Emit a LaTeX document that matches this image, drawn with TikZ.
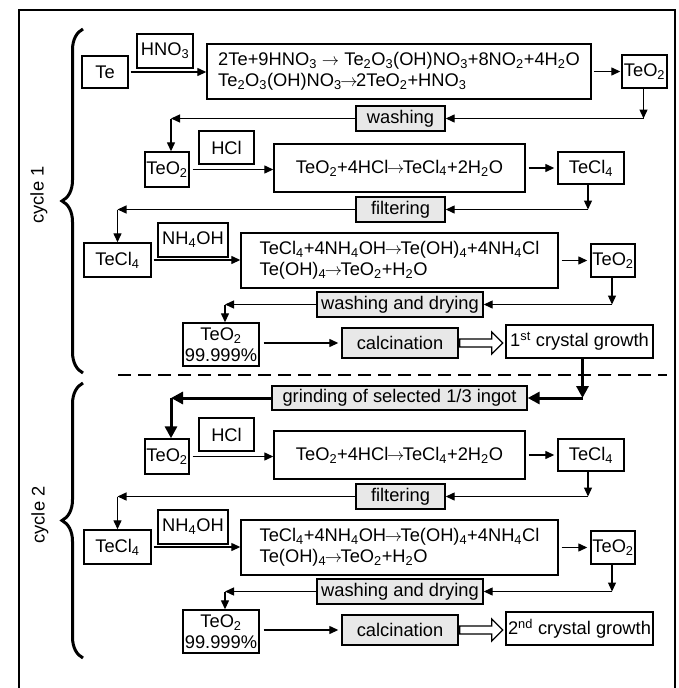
\documentclass[tikz,border=0pt]{standalone}
\usepackage{fontspec}
\setmainfont{Liberation Sans}
\usetikzlibrary{arrows.meta,decorations.pathreplacing}
\newcommand\sub[1]{\textsubscript{#1}}
\newcommand\ra{\mbox{$\mkern-1.5mu\rightarrow\mkern-1.5mu$}}
\newcommand\bx[6]{\node[#1,minimum width={#4pt-#2pt},minimum height={#5pt-#3pt}] (#6) at ({(#2+#4)/2},{(#3+#5)/2})}
\begin{document}
\begin{tikzpicture}[x=1pt,y=-1pt,
  font=\fontsize{18.3}{21.5}\selectfont,
  box/.style={draw, line width=1.4pt, inner sep=0pt, align=center},
  gbox/.style={box, fill=black!9},
  rbox/.style={box, align=left},
  arr/.style={line width=1.3pt, -{Triangle[length=9pt,width=8pt]}},
  tarr/.style={line width=3pt, -{Triangle[length=12pt,width=12pt]}},
  hollow/.style={line width=1.3pt, fill=white, line join=miter},
  bracel/.style={line width=3pt, decorate, decoration={brace, amplitude=21pt}}]
\useasboundingbox (0,0) rectangle (678,688);
\draw[line width=2.5pt] (19,10) rectangle (675,700);

% braces and labels
\draw[bracel] (83,373) -- (83,29);
\draw[bracel] (83,658) -- (83,383);
\node[rotate=90] (cyc1) at (39,195) {cycle 1};
\node[rotate=90] (cyc2) at (40,515) {cycle 2};

% ---------- cycle 1 ----------
\bx{box}{82}{56}{128}{88}{te} {Te};
\bx{box}{137}{34}{193}{68}{hno} {HNO\sub3};
\bx{rbox}{207}{44}{591}{99}{r1} {2Te+9HNO\sub3 $\rightarrow$ Te\sub2O\sub3(OH)NO\sub3+8NO\sub2+4H\sub2O\\Te\sub2O\sub3(OH)NO\sub3\ra2TeO\sub2+HNO\sub3};
\bx{box}{622}{55}{667}{88}{o1} {TeO\sub2};
\bx{gbox}{356}{106}{445}{131}{wash} {washing};
\bx{box}{145}{152}{189}{187}{o2} {TeO\sub2};
\bx{box}{199}{131}{254}{164}{hcl} {HCl};
\bx{box}{274}{144}{525}{192}{r2} {TeO\sub2+4HCl\ra TeCl\sub4+2H\sub2O};
\bx{box}{558}{152}{624}{184}{c1} {TeCl\sub4};
\bx{gbox}{356}{197}{445}{222}{filt} {filtering};
\bx{box}{84}{243}{151}{277}{c2} {TeCl\sub4};
\bx{box}{158}{223}{228}{257}{nh} {NH\sub4OH};
\bx{rbox}{241}{233}{558}{288}{r3} {TeCl\sub4+4NH\sub4OH\ra Te(OH)\sub4+4NH\sub4Cl\\Te(OH)\sub4\ra TeO\sub2+H\sub2O};
\bx{box}{591}{244}{635}{277}{o3} {TeO\sub2};
\bx{gbox}{317}{292}{483}{317}{wd} {washing and drying};
\bx{box}{183}{323}{259}{366}{p1} {TeO\sub2\\[-1pt]99.999\%};
\bx{gbox}{342}{328}{458}{358}{calc} {calcination};
\bx{box}{506}{325}{653}{358}{g1} {1\textsuperscript{st} crystal growth};

\draw[line width=2pt, dash pattern=on 13pt off 7pt] (118,375) -- (667,375);

\bx{gbox}{272}{386}{527}{410}{grind} {grinding of selected 1/3 ingot};

% ---------- cycle 2 ----------
\bx{box}{145}{439}{189}{474}{o4} {TeO\sub2};
\bx{box}{199}{418}{254}{451}{hcl2} {HCl};
\bx{box}{274}{431}{525}{479}{r4} {TeO\sub2+4HCl\ra TeCl\sub4+2H\sub2O};
\bx{box}{558}{439}{624}{471}{c3} {TeCl\sub4};
\bx{gbox}{356}{484}{445}{509}{filt2} {filtering};
\bx{box}{84}{530}{151}{564}{c4} {TeCl\sub4};
\bx{box}{158}{510}{228}{544}{nh2} {NH\sub4OH};
\bx{rbox}{241}{520}{558}{575}{r5} {TeCl\sub4+4NH\sub4OH\ra Te(OH)\sub4+4NH\sub4Cl\\Te(OH)\sub4\ra TeO\sub2+H\sub2O};
\bx{box}{591}{531}{635}{564}{o5} {TeO\sub2};
\bx{gbox}{317}{579}{483}{604}{wd2} {washing and drying};
\bx{box}{183}{610}{259}{653}{p2} {TeO\sub2\\[-1pt]99.999\%};
\bx{gbox}{342}{615}{458}{645}{calc2} {calcination};
\bx{box}{506}{612}{653}{645}{g2} {2\textsuperscript{nd} crystal growth};

% ---------- connectors cycle 1 ----------
\draw[arr, shorten <=2pt] (te.east) -- (te.east -| r1.west);
\draw[arr, shorten <=2pt, shorten >=1pt] (r1.east |- o1.west) -- (o1.west);
\coordinate (k1) at ([xshift=-1pt]o1.south |- wash.east);
\draw[arr] ([xshift=-1pt]o1.south) -- (k1);
\draw[arr] (k1) -- (wash.east);
\coordinate (k2) at ([xshift=4pt]o2.north |- wash.west);
\draw[arr] (wash.west) -- (k2);
\draw[arr] (k2) -- (k2 |- o2.north);
\draw[arr, shorten <=3pt] (o2.east) -- (o2.east -| r2.west);
\draw[arr, shorten <=3pt, shorten >=3pt] (r2.east |- c1.west) -- (c1.west);
\coordinate (k3) at ([xshift=-3pt]c1.south |- filt.east);
\draw[arr] ([xshift=-3pt]c1.south) -- (k3);
\draw[arr] (k3) -- (filt.east);
\coordinate (k4) at (c2.north |- filt.west);
\draw[arr] (filt.west) -- (k4);
\draw[arr] (k4) -- (c2.north);
\draw[arr, shorten <=2pt] (c2.east) -- (c2.east -| r3.west);
\draw[arr, shorten <=3pt, shorten >=3pt] (r3.east |- o3.west) -- (o3.west);
\coordinate (k5) at ([xshift=-1pt]o3.south |- wd.east);
\draw[arr] ([xshift=-1pt]o3.south) -- (k5);
\draw[arr] (k5) -- (wd.east);
\coordinate (k6) at ([xshift=4pt]p1.north |- wd.west);
\draw[arr] (wd.west) -- (k6);
\draw[arr] (k6) -- (k6 |- p1.north);
\draw[arr, shorten <=4pt, shorten >=3pt] (p1.east |- calc.west) -- (calc.west);
\draw[hollow] (calc.east) ++(1,-4) -- ++(32,0) -- ++(0,-7) -- ++(11,11) -- ++(-11,11) -- ++(0,-7) -- ++(-32,0) -- cycle;
\coordinate (k7) at ([xshift=3pt]g1.south |- grind.east);
\draw[tarr] ([xshift=3pt]g1.south) -- (k7);
\draw[tarr] (k7) -- (grind.east);
\coordinate (k8) at ([xshift=4pt]o4.north |- grind.west);
\draw[tarr] (grind.west) -- (k8);
\draw[tarr] (k8) -- (k8 |- o4.north);

% ---------- connectors cycle 2 ----------
\draw[arr, shorten <=3pt] (o4.east) -- (o4.east -| r4.west);
\draw[arr, shorten <=3pt, shorten >=3pt] (r4.east |- c3.west) -- (c3.west);
\coordinate (m3) at ([xshift=-3pt]c3.south |- filt2.east);
\draw[arr] ([xshift=-3pt]c3.south) -- (m3);
\draw[arr] (m3) -- (filt2.east);
\coordinate (m4) at (c4.north |- filt2.west);
\draw[arr] (filt2.west) -- (m4);
\draw[arr] (m4) -- (c4.north);
\draw[arr, shorten <=2pt] (c4.east) -- (c4.east -| r5.west);
\draw[arr, shorten <=3pt, shorten >=3pt] (r5.east |- o5.west) -- (o5.west);
\coordinate (m5) at ([xshift=-1pt]o5.south |- wd2.east);
\draw[arr] ([xshift=-1pt]o5.south) -- (m5);
\draw[arr] (m5) -- (wd2.east);
\coordinate (m6) at ([xshift=4pt]p2.north |- wd2.west);
\draw[arr] (wd2.west) -- (m6);
\draw[arr] (m6) -- (m6 |- p2.north);
\draw[arr, shorten <=4pt, shorten >=3pt] (p2.east |- calc2.west) -- (calc2.west);
\draw[hollow] (calc2.east) ++(1,-4) -- ++(32,0) -- ++(0,-7) -- ++(11,11) -- ++(-11,11) -- ++(0,-7) -- ++(-32,0) -- cycle;
\end{tikzpicture}
\end{document}
